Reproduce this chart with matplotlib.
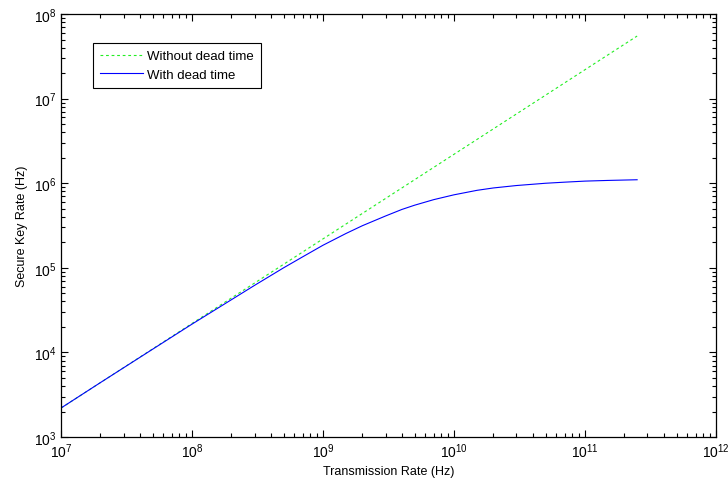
import numpy as np
import matplotlib.pyplot as plt

plt.rcParams['font.family'] = ['Liberation Sans', 'DejaVu Sans']
plt.rcParams['mathtext.fontset'] = 'custom'
plt.rcParams['mathtext.rm'] = 'Liberation Sans'

# Transmission rate (Hz)
rate = [1e7, 2e7, 5e7, 1e8, 2e8, 3e8, 5e8, 7e8, 1e9, 1.5e9, 2e9, 3e9, 4e9,
        5e9, 7e9, 1e10, 1.5e10, 2e10, 3e10, 5e10, 7e10, 1e11, 1.5e11, 2.5e11]

# Secure key rate without dead time (Hz)
key_no_dead = [2.2e3, 4.4e3, 1.1e4, 2.2e4, 4.4e4, 6.6e4, 1.1e5, 1.54e5, 2.2e5,
               3.3e5, 4.4e5, 6.6e5, 8.8e5, 1.1e6, 1.54e6, 2.2e6, 3.3e6, 4.4e6,
               6.6e6, 1.1e7, 1.54e7, 2.2e7, 3.3e7, 5.5e7]

# Secure key rate with dead time (Hz)
key_dead = [2.2e3, 4.4e3, 1.09e4, 2.16e4, 4.2e4, 6.2e4, 1.0e5, 1.35e5, 1.85e5,
            2.55e5, 3.15e5, 4.1e5, 4.9e5, 5.5e5, 6.4e5, 7.3e5, 8.25e5, 8.8e5,
            9.4e5, 1.0e6, 1.03e6, 1.06e6, 1.08e6, 1.1e6]

fig = plt.figure(figsize=(7.28, 4.85), dpi=100)
ax = fig.add_axes([0.0838, 0.0969, 0.8997, 0.872])

ax.loglog(rate, key_no_dead, color='#22ee22', linestyle=(0, (2.5, 2.5)),
          linewidth=0.8, label='Without dead time')
ax.loglog(rate, key_dead, color='#0000ff', linewidth=0.8, label='With dead time')

ax.set_xlim(1e7, 1e12)
ax.set_ylim(1e3, 1e8)
ax.set_xticks([1e7, 1e8, 1e9, 1e10, 1e11, 1e12])
ax.set_yticks([1e3, 1e4, 1e5, 1e6, 1e7, 1e8])

ax.tick_params(which='both', direction='in', top=True, right=True, labelsize=10)
ax.tick_params(which='major', length=5, width=0.8)
ax.tick_params(which='minor', length=3, width=0.8)
for s in ax.spines.values():
    s.set_linewidth(0.9)

ax.set_xlabel('Transmission Rate (Hz)', fontsize=9, labelpad=3)
ax.set_ylabel('Secure Key Rate (Hz)', fontsize=9, labelpad=4)

leg = ax.legend(loc='upper left', bbox_to_anchor=(0.049, 0.932), fontsize=9.5,
                fancybox=False, framealpha=1, edgecolor='black',
                borderpad=0.55, handlelength=3.2, labelspacing=0.45,
                handletextpad=0.3, borderaxespad=0)
leg.get_frame().set_linewidth(0.8)

plt.savefig('out.png', dpi=100)
